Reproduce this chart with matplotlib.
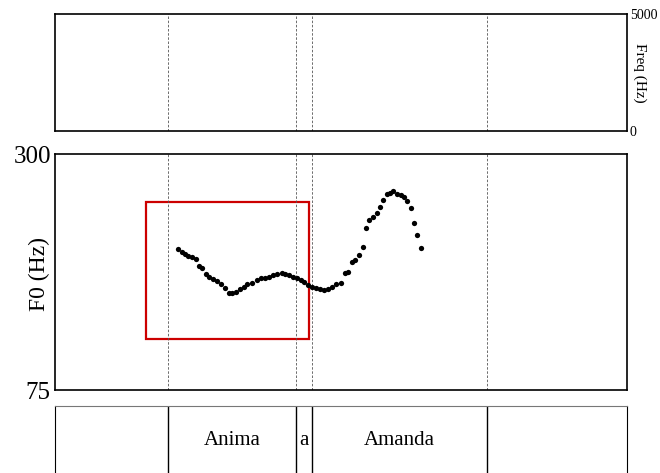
import matplotlib
matplotlib.use("Agg")
import matplotlib.pyplot as plt
from matplotlib.patches import Rectangle

plt.rcParams['font.family'] = ['Liberation Serif', 'DejaVu Serif']

# ---- data ----
duration = 2.0
boundaries = [0.396, 0.842, 0.898, 1.510]
tier_labels = ["", "Anima", "a", "Amanda", ""]
interval_edges = [0.0] + boundaries + [duration]

time_s = [0.4312, 0.4429, 0.4545, 0.4662, 0.4779, 0.4918, 0.5035, 0.5128, 0.5280, 0.5396,
          0.5536, 0.5676, 0.5793, 0.5944, 0.6084, 0.6200, 0.6329, 0.6469, 0.6608, 0.6725,
          0.6877, 0.7051, 0.7191, 0.7343, 0.7494, 0.7634, 0.7774, 0.7925, 0.8042, 0.8182,
          0.8333, 0.8450, 0.8590, 0.8706, 0.8858, 0.8974, 0.9126, 0.9266, 0.9406, 0.9557,
          0.9674, 0.9825, 0.9988, 1.0140, 1.0256, 1.0373, 1.0490, 1.0629, 1.0758, 1.0874,
          1.0991, 1.1131, 1.1247, 1.1364, 1.1480, 1.1597, 1.1713, 1.1830, 1.1946, 1.2086,
          1.2203, 1.2319, 1.2436, 1.2552, 1.2669, 1.2786]
f0_hz = [209.4, 206.9, 204.7, 202.8, 201.5, 199.6, 193.5, 191.0, 185.6, 183.0,
         181.1, 178.9, 175.7, 172.6, 167.2, 167.8, 168.4, 171.3, 173.5, 175.7,
         176.7, 179.9, 182.1, 182.1, 183.0, 184.3, 185.3, 186.2, 185.6, 184.6,
         183.0, 181.5, 179.9, 177.7, 175.4, 173.5, 171.9, 171.0, 170.3, 171.0,
         173.5, 175.7, 177.3, 186.2, 187.8, 197.4, 198.9, 203.7, 211.7, 229.1,
         237.1, 240.3, 244.1, 249.8, 256.1, 261.5, 263.1, 265.0, 261.9, 260.6,
         258.7, 255.5, 248.2, 233.9, 222.8, 210.1]

f0_range = [75, 300]
freq_range = [0, 5000]
highlight_t = [0.318, 0.888]
highlight_f = [123.6, 254.2]

# ---- figure ----
W, H = 660, 473
fig = plt.figure(figsize=(W / 100, H / 100), dpi=100)

def rect(x0, y0, x1, y1):
    return [x0 / W, 1 - y1 / H, (x1 - x0) / W, (y1 - y0) / H]

ax_sp = fig.add_axes(rect(55, 14, 627, 131))
ax_f0 = fig.add_axes(rect(55, 154, 627, 390))
ax_tg = fig.add_axes(rect(55, 406, 627, 473))

dash_kw = dict(color="#555555", lw=0.6, linestyle=(0, (3, 2)))

# spectrogram panel (empty)
ax_sp.set_xlim(0, duration)
ax_sp.set_ylim(*freq_range)
for b in boundaries:
    ax_sp.axvline(b, **dash_kw)
ax_sp.set_xticks([])
ax_sp.yaxis.tick_right()
ax_sp.set_yticks(freq_range)
ax_sp.set_yticklabels([str(v) for v in freq_range])
ax_sp.tick_params(axis='y', length=0, labelsize=10, pad=2)
ax_sp.text(1.023, 0.5, "Freq (Hz)", transform=ax_sp.transAxes, rotation=-90,
           ha='center', va='center', fontsize=11)
for s in ax_sp.spines.values():
    s.set_linewidth(1.2)

# F0 panel
ax_f0.set_xlim(0, duration)
ax_f0.set_ylim(*f0_range)
for b in boundaries:
    ax_f0.axvline(b, **dash_kw)
ax_f0.plot(time_s, f0_hz, 'o', color='black', ms=3.8, mec='black', mew=0)
ax_f0.add_patch(Rectangle((highlight_t[0], highlight_f[0]),
                          highlight_t[1] - highlight_t[0],
                          highlight_f[1] - highlight_f[0],
                          fill=False, edgecolor='#cc0000', lw=1.6))
ax_f0.set_xticks([])
ax_f0.set_yticks(f0_range)
ax_f0.set_yticklabels([str(v) for v in f0_range])
ax_f0.tick_params(axis='y', length=0, labelsize=18, pad=3)
ax_f0.text(-0.027, 0.49, "F0 (Hz)", transform=ax_f0.transAxes, rotation=90,
           ha='center', va='center', fontsize=17)
for s in ax_f0.spines.values():
    s.set_linewidth(1.2)

# text tier
ax_tg.set_xlim(0, duration)
ax_tg.set_ylim(0, 1)
ax_tg.set_xticks([])
ax_tg.set_yticks([])
ax_tg.spines['bottom'].set_visible(False)
ax_tg.spines['top'].set_color('#777777')
ax_tg.spines['top'].set_linewidth(0.8)
for b in boundaries:
    ax_tg.axvline(b, color='black', lw=1.0)
for i, lab in enumerate(tier_labels):
    mid = 0.5 * (interval_edges[i] + interval_edges[i + 1])
    if lab:
        ax_tg.text(mid, 0.48, lab, ha='center', va='center', fontsize=15)

fig.savefig("out.png", dpi=100)
